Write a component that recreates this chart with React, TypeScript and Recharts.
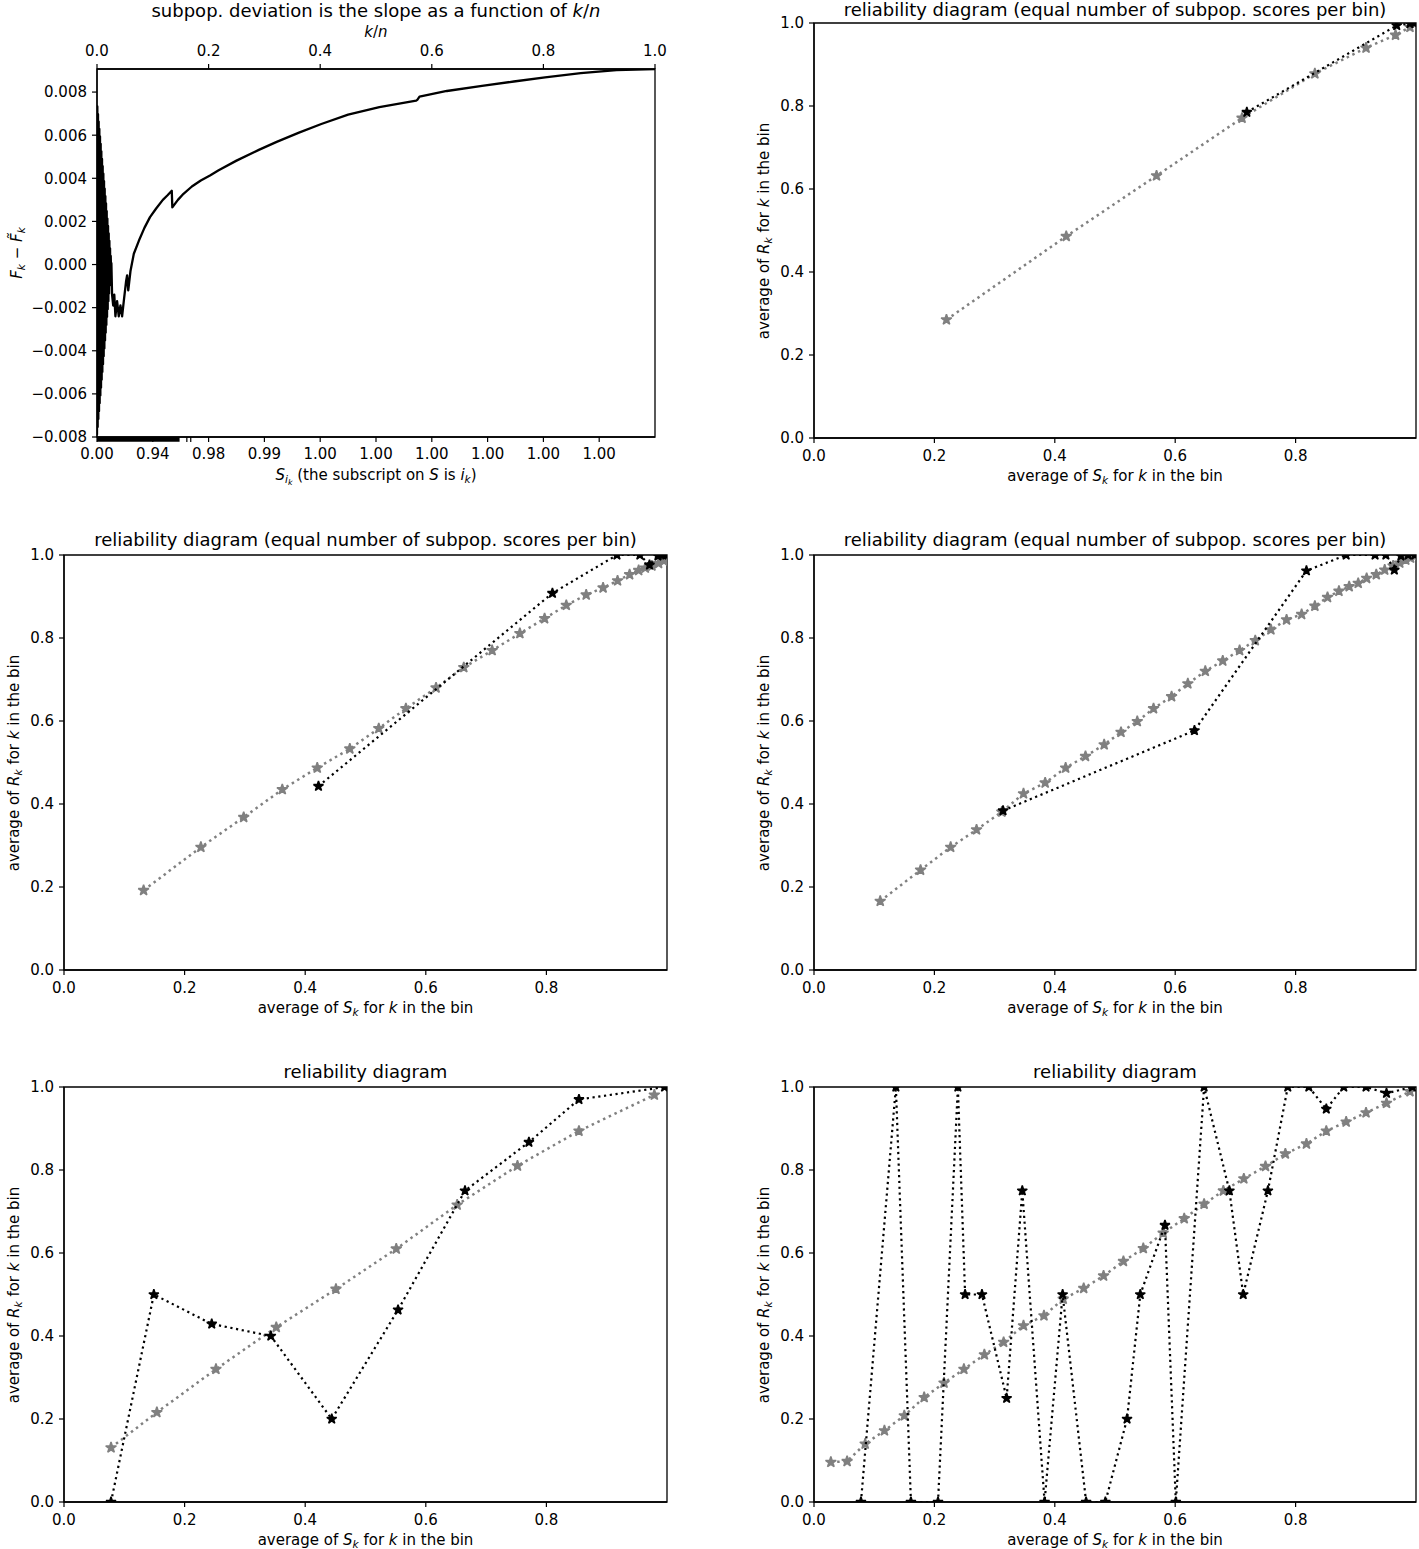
import React from 'react';
import { ComposedChart, Line, Scatter, XAxis, YAxis, ReferenceArea } from 'recharts';

const FONT = '"DejaVu Sans", sans-serif';
const GRAY = '#808080';
const BLACK = '#000000';

// ---------- Panel 1: cumulative deviation ----------
const p1KOverN = [
  0, 0.0006, 0.0012, 0.0018, 0.0024, 0.003, 0.0036, 0.0042, 0.0048, 0.0054, 0.006, 0.0066,
  0.0072, 0.0078, 0.0084, 0.009, 0.0096, 0.0102, 0.0108, 0.0114, 0.012, 0.0126, 0.0132, 0.0138,
  0.0144, 0.015, 0.0156, 0.0162, 0.0168, 0.0174, 0.018, 0.0186, 0.0192, 0.0198, 0.0204, 0.021,
  0.0216, 0.0222, 0.0228, 0.0234, 0.024, 0.0246, 0.0252, 0.0258,
  0.027, 0.029, 0.031, 0.033, 0.036, 0.039, 0.042, 0.045, 0.048, 0.052, 0.054, 0.056, 0.06,
  0.066, 0.075, 0.085, 0.095, 0.106, 0.118, 0.126, 0.134, 0.135, 0.145, 0.155, 0.17, 0.186,
  0.2025, 0.218, 0.25, 0.29, 0.322, 0.362, 0.402, 0.45, 0.506, 0.572, 0.574, 0.578, 0.627, 0.69,
  0.747, 0.803, 0.867, 0.931, 1.0,
];
const p1Deviation = [
  -0.0079, 0.00733, -0.00754, 0.00698, -0.00717, 0.00663, -0.00681, 0.00629, -0.00644, 0.00594,
  -0.00608, 0.0056, -0.00571, 0.00525, -0.00535, 0.0049, -0.00498, 0.00456, -0.00462, 0.00421,
  -0.00425, 0.00387, -0.00389, 0.00352, -0.00352, 0.00317, -0.00316, 0.00283, -0.0028, 0.00248,
  -0.00243, 0.00213, -0.00207, 0.00179, -0.0017, 0.00144, -0.00134, 0.0011, -0.00097, 0.00075,
  -0.00061, 0.0004, -0.00024, 0.00006,
  -0.0014, -0.0019, -0.0014, -0.0024, -0.0017, -0.0024, -0.0019, -0.0024, -0.0017, -0.0008,
  -0.0005, -0.0012, -0.0003, 0.0005, 0.0011, 0.0017, 0.0022, 0.0026, 0.003, 0.0032, 0.00342,
  0.00265, 0.003, 0.00328, 0.00362, 0.0039, 0.00413, 0.00437, 0.00482, 0.00532, 0.00569,
  0.00612, 0.00652, 0.00695, 0.0073, 0.0076, 0.00764, 0.00779, 0.00805, 0.00829, 0.00849,
  0.00868, 0.00888, 0.00902, 0.00907,
];
const p1TopTicks = [0, 0.2, 0.4, 0.6, 0.8, 1.0];
const p1BottomMajor = [0, 0.1, 0.2, 0.3, 0.4, 0.5, 0.6, 0.7, 0.8, 0.9];
const p1BottomLabels = ['0.00', '0.94', '0.98', '0.99', '1.00', '1.00', '1.00', '1.00', '1.00', '1.00'];
const p1BottomMinor = [0.161, 0.168];
const p1YTicks = [-0.008, -0.006, -0.004, -0.002, 0, 0.002, 0.004, 0.006, 0.008];
const p1YDomain = [-0.008, 0.00907];

// ---------- Reliability diagrams ----------
const relTicksX = [0, 0.2, 0.4, 0.6, 0.8];
const relTicksY = [0, 0.2, 0.4, 0.6, 0.8, 1.0];

const p2GrayS = [0.22, 0.419, 0.569, 0.711, 0.832, 0.917, 0.966, 0.99];
const p2GrayR = [0.285, 0.486, 0.632, 0.771, 0.878, 0.94, 0.971, 0.99];
const p2BlackS = [0.719, 0.968, 0.99, 0.997];
const p2BlackR = [0.785, 0.994, 0.999, 1.0];

const p3GrayS = [0.132, 0.227, 0.298, 0.362, 0.42, 0.474, 0.522, 0.567, 0.617, 0.663, 0.71, 0.756, 0.797, 0.833, 0.866, 0.894, 0.918, 0.938, 0.953, 0.964, 0.975, 0.986, 0.995];
const p3GrayR = [0.192, 0.296, 0.368, 0.435, 0.487, 0.533, 0.582, 0.63, 0.68, 0.729, 0.77, 0.811, 0.847, 0.879, 0.904, 0.921, 0.938, 0.953, 0.963, 0.969, 0.974, 0.98, 0.986];
const p3BlackS = [0.422, 0.81, 0.917, 0.955, 0.971, 0.985, 0.993, 0.998];
const p3BlackR = [0.443, 0.908, 1.0, 1.0, 0.976, 0.998, 1.0, 1.0];

const p4GrayS = [0.11, 0.177, 0.227, 0.27, 0.312, 0.348, 0.384, 0.418, 0.451, 0.482, 0.51, 0.537, 0.564, 0.594, 0.621, 0.65, 0.679, 0.707, 0.733, 0.759, 0.785, 0.81, 0.832, 0.853, 0.872, 0.889, 0.904, 0.918, 0.934, 0.948, 0.962, 0.973, 0.983, 0.991, 0.997];
const p4GrayR = [0.166, 0.241, 0.296, 0.338, 0.381, 0.425, 0.451, 0.487, 0.515, 0.543, 0.573, 0.599, 0.63, 0.659, 0.69, 0.72, 0.745, 0.77, 0.794, 0.82, 0.844, 0.857, 0.877, 0.898, 0.913, 0.924, 0.932, 0.944, 0.953, 0.964, 0.974, 0.981, 0.988, 0.993, 0.997];
const p4BlackS = [0.314, 0.632, 0.818, 0.884, 0.932, 0.95, 0.964, 0.975, 0.987, 0.998];
const p4BlackR = [0.384, 0.577, 0.962, 1.0, 1.0, 1.0, 0.964, 0.998, 1.0, 1.0];

const p5GrayS = [0.078, 0.154, 0.252, 0.352, 0.451, 0.551, 0.652, 0.752, 0.854, 0.979];
const p5GrayR = [0.131, 0.216, 0.32, 0.421, 0.513, 0.61, 0.716, 0.81, 0.894, 0.981];
const p5BlackS = [0.078, 0.149, 0.245, 0.343, 0.444, 0.554, 0.665, 0.771, 0.854, 0.996];
const p5BlackR = [0.0, 0.5, 0.429, 0.4, 0.2, 0.463, 0.75, 0.867, 0.97, 1.0];

const p6GrayS = [0.028, 0.055, 0.085, 0.117, 0.15, 0.183, 0.216, 0.249, 0.283, 0.315, 0.348, 0.382, 0.414, 0.448, 0.481, 0.514, 0.547, 0.58, 0.615, 0.648, 0.68, 0.714, 0.75, 0.783, 0.818, 0.851, 0.884, 0.917, 0.951, 0.99];
const p6GrayR = [0.096, 0.098, 0.14, 0.172, 0.208, 0.252, 0.287, 0.32, 0.355, 0.385, 0.425, 0.449, 0.489, 0.515, 0.545, 0.58, 0.611, 0.648, 0.683, 0.718, 0.75, 0.779, 0.809, 0.839, 0.863, 0.894, 0.916, 0.938, 0.961, 0.989];
const p6BlackS = [0.078, 0.136, 0.161, 0.206, 0.239, 0.251, 0.279, 0.32, 0.346, 0.383, 0.413, 0.452, 0.484, 0.52, 0.542, 0.583, 0.601, 0.648, 0.69, 0.713, 0.754, 0.787, 0.822, 0.851, 0.88, 0.917, 0.951, 0.994];
const p6BlackR = [0, 1, 0, 0, 1, 0.5, 0.5, 0.25, 0.75, 0, 0.5, 0, 0, 0.2, 0.5, 0.667, 0, 1, 0.75, 0.5, 0.75, 1, 1, 0.947, 1, 1, 0.985, 1];

// ---------- helpers ----------
type Pt = { x: number; y: number };
const zip = (xs: number[], ys: number[]): Pt[] => xs.map((x, i) => ({ x, y: ys[i] }));

const starPath = (cx: number, cy: number, R: number) => {
  const r = R * 0.381966;
  let d = '';
  for (let i = 0; i < 10; i++) {
    const rad = i % 2 === 0 ? R : r;
    const a = -Math.PI / 2 + (i * Math.PI) / 5;
    d += (i === 0 ? 'M' : 'L') + (cx + rad * Math.cos(a)).toFixed(2) + ',' + (cy + rad * Math.sin(a)).toFixed(2);
  }
  return d + 'Z';
};

const makeStar = (color: string, R: number) => (props: any) => {
  const { cx, cy } = props;
  if (cx == null || cy == null || isNaN(cx) || isNaN(cy)) return <g />;
  return (
    <path d={starPath(cx, cy, R)} fill={color} stroke={color} strokeWidth={1.5} strokeLinejoin="bevel" />
  );
};
const grayStar = makeStar(GRAY, 5.6);
const blackStar = makeStar(BLACK, 5.2);

const tickStyle = { fill: '#000', fontSize: 15, fontFamily: FONT };
const axisLineStyle = { stroke: '#000', strokeWidth: 1.3 };
const tickLineStyle = { stroke: '#000', strokeWidth: 1.2 };

const Sub = ({ children }: { children: React.ReactNode }) => (
  <span style={{ fontSize: '0.7em', position: 'relative', top: '0.28em', fontStyle: 'italic' }}>{children}</span>
);

const Lbl = ({ x, y, size = 15, rot = false, children }: { x: number; y: number; size?: number; rot?: boolean; children: React.ReactNode }) => (
  <div
    style={{
      position: 'absolute',
      left: x,
      top: y,
      transform: `translate(-50%, -50%)${rot ? ' rotate(-90deg)' : ''}`,
      fontSize: size,
      whiteSpace: 'nowrap',
      lineHeight: 1,
      fontFamily: FONT,
      color: '#000',
    }}
  >
    {children}
  </div>
);

type Rect = { x: number; y: number; w: number; h: number };

const fmt1 = (v: number) => v.toFixed(1);

function Reliability({ rect, title, titleY, grayS, grayR, blackS, blackR }: { rect: Rect; title: string; titleY?: number; grayS: number[]; grayR: number[]; blackS: number[]; blackR: number[] }) {
  const LP = 100, TP = 20, RP = 10, BP = 40;
  const cx = rect.x + rect.w / 2;
  const cy = rect.y + rect.h / 2;
  return (
    <>
      <div style={{ position: 'absolute', left: rect.x - LP, top: rect.y - TP }}>
        <ComposedChart
          width={LP + rect.w + RP}
          height={TP + rect.h + BP}
          margin={{ top: TP, right: RP, bottom: BP - 30, left: LP - 60 }}
        >
          <XAxis
            type="number"
            dataKey="x"
            domain={[0, 1]}
            allowDataOverflow
            ticks={relTicksX}
            tickFormatter={fmt1}
            interval={0}
            height={30}
            tickSize={5}
            tickMargin={7}
            axisLine={axisLineStyle}
            tickLine={tickLineStyle}
            tick={tickStyle}
          />
          <YAxis
            type="number"
            dataKey="y"
            domain={[0, 1]}
            allowDataOverflow
            ticks={relTicksY}
            tickFormatter={fmt1}
            interval={0}
            width={60}
            tickSize={5}
            tickMargin={5}
            axisLine={axisLineStyle}
            tickLine={tickLineStyle}
            tick={tickStyle}
          />
          <ReferenceArea x1={0} x2={1} y1={0} y2={1} fill="none" fillOpacity={0} stroke="#000" strokeWidth={1.3} ifOverflow="visible" />
          <Scatter
            data={zip(grayS, grayR)}
            fill={GRAY}
            line={{ stroke: GRAY, strokeWidth: 2.5, strokeDasharray: '2.5 3.8' }}
            lineType="joint"
            shape={grayStar}
            isAnimationActive={false}
          />
          <Scatter
            data={zip(blackS, blackR)}
            fill={BLACK}
            line={{ stroke: BLACK, strokeWidth: 2.2, strokeDasharray: '2.2 3.6' }}
            lineType="joint"
            shape={blackStar}
            isAnimationActive={false}
          />
        </ComposedChart>
      </div>
      <Lbl x={cx} y={titleY ?? rect.y - 15} size={18}>{title}</Lbl>
      <Lbl x={cx} y={rect.y + rect.h + 38}>
        average of <i>S</i><Sub>k</Sub> for <i>k</i> in the bin
      </Lbl>
      <Lbl x={rect.x - 50} y={cy} rot>
        average of <i>R</i><Sub>k</Sub> for <i>k</i> in the bin
      </Lbl>
    </>
  );
}

function Deviation() {
  const rect: Rect = { x: 97, y: 69, w: 558, h: 368 };
  const LP = 100, TP = 69, RP = 30, BP = 40;
  const data = zip(p1KOverN, p1Deviation);
  const bottomTicks = [...p1BottomMajor, ...p1BottomMinor].sort((a, b) => a - b);
  const bottomFmt = (v: number) => {
    const i = p1BottomMajor.findIndex((t) => Math.abs(t - v) < 1e-9);
    return i >= 0 ? p1BottomLabels[i] : '';
  };
  const yFmt = (v: number) => (v < 0 ? '\u2212' : '') + Math.abs(v).toFixed(3);
  const cx = rect.x + rect.w / 2;
  return (
    <>
      <div style={{ position: 'absolute', left: rect.x - LP, top: rect.y - TP }}>
        <ComposedChart
          width={LP + rect.w + RP}
          height={TP + rect.h + BP}
          data={data}
          margin={{ top: TP - 40, right: RP, bottom: BP - 30, left: LP - 60 }}
        >
          <XAxis
            xAxisId="top"
            orientation="top"
            type="number"
            dataKey="x"
            domain={[0, 1]}
            allowDataOverflow
            ticks={p1TopTicks}
            tickFormatter={fmt1}
            interval={0}
            height={40}
            tickSize={5}
            tickMargin={8}
            axisLine={axisLineStyle}
            tickLine={tickLineStyle}
            tick={tickStyle}
          />
          <XAxis
            xAxisId="bottom"
            orientation="bottom"
            type="number"
            dataKey="x"
            domain={[0, 1]}
            allowDataOverflow
            ticks={bottomTicks}
            tickFormatter={bottomFmt}
            interval={0}
            height={30}
            tickSize={5}
            tickMargin={6}
            axisLine={axisLineStyle}
            tickLine={tickLineStyle}
            tick={tickStyle}
          />
          <YAxis
            type="number"
            dataKey="y"
            domain={p1YDomain}
            allowDataOverflow
            ticks={p1YTicks}
            tickFormatter={yFmt}
            interval={0}
            width={60}
            tickSize={5}
            tickMargin={5}
            axisLine={axisLineStyle}
            tickLine={tickLineStyle}
            tick={tickStyle}
          />
          <ReferenceArea xAxisId="bottom" x1={0} x2={1} y1={p1YDomain[0]} y2={p1YDomain[1]} fill="none" fillOpacity={0} stroke="#000" strokeWidth={1.3} ifOverflow="visible" />
          <ReferenceArea xAxisId="bottom" x1={0} x2={0.148} y1={-0.00822} y2={-0.008} fill="#000" fillOpacity={1} stroke="none" ifOverflow="visible" />
          <Line
            xAxisId="bottom"
            type="linear"
            dataKey="y"
            stroke="#000"
            strokeWidth={2.3}
            strokeLinejoin="round"
            dot={false}
            activeDot={false}
            isAnimationActive={false}
          />
        </ComposedChart>
      </div>
      <Lbl x={cx} y={11} size={18}>
        subpop. deviation is the slope as a function of <i>k</i>/<i>n</i>
      </Lbl>
      <Lbl x={cx} y={32}>
        <i>k</i>/<i>n</i>
      </Lbl>
      <Lbl x={cx} y={rect.y + rect.h + 38}>
        <i>S</i>
        <span style={{ fontSize: '0.7em', position: 'relative', top: '0.28em', fontStyle: 'italic' }}>
          i<span style={{ fontSize: '0.75em', position: 'relative', top: '0.25em' }}>k</span>
        </span>{' '}
        (the subscript on <i>S</i> is <i>i</i><Sub>k</Sub>)
      </Lbl>
      <Lbl x={17} y={rect.y + rect.h / 2} rot>
        <i>F</i><Sub>k</Sub> − <i>F&#771;</i><Sub>k</Sub>
      </Lbl>
    </>
  );
}

export default function App() {
  const title2 = 'reliability diagram (equal number of subpop. scores per bin)';
  const title3 = 'reliability diagram';
  return (
    <div
      style={{
        position: 'absolute',
        left: 0,
        top: 0,
        width: 1419,
        height: 1549,
        background: '#fff',
        overflow: 'hidden',
        fontFamily: FONT,
      }}
    >
      <Deviation />
      <Reliability rect={{ x: 814, y: 23, w: 602, h: 415 }} title={title2} titleY={10} grayS={p2GrayS} grayR={p2GrayR} blackS={p2BlackS} blackR={p2BlackR} />
      <Reliability rect={{ x: 64, y: 555, w: 603, h: 415 }} title={title2} grayS={p3GrayS} grayR={p3GrayR} blackS={p3BlackS} blackR={p3BlackR} />
      <Reliability rect={{ x: 814, y: 555, w: 602, h: 415 }} title={title2} grayS={p4GrayS} grayR={p4GrayR} blackS={p4BlackS} blackR={p4BlackR} />
      <Reliability rect={{ x: 64, y: 1087, w: 603, h: 415 }} title={title3} grayS={p5GrayS} grayR={p5GrayR} blackS={p5BlackS} blackR={p5BlackR} />
      <Reliability rect={{ x: 814, y: 1087, w: 602, h: 415 }} title={title3} grayS={p6GrayS} grayR={p6GrayR} blackS={p6BlackS} blackR={p6BlackR} />
    </div>
  );
}
